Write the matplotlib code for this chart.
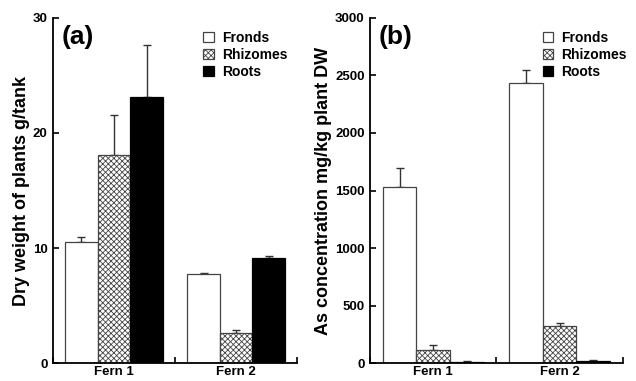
import matplotlib.pyplot as plt
import numpy as np

plt.rcParams["font.family"] = ["Liberation Sans", "DejaVu Sans"]
plt.rcParams["font.weight"] = "bold"
plt.rcParams["hatch.linewidth"] = 0.6
plt.rcParams["hatch.color"] = "#333333"

groups = ["Fern 1", "Fern 2"]
parts = ["Fronds", "Rhizomes", "Roots"]

# (a) dry weight, g/tank
dw_mean = {"Fronds": [10.5, 7.75], "Rhizomes": [18.1, 2.6], "Roots": [23.15, 9.15]}
dw_err = {"Fronds": [0.5, 0.1], "Rhizomes": [3.5, 0.3], "Roots": [4.5, 0.2]}

# (b) As concentration, mg/kg plant DW
as_mean = {"Fronds": [1530, 2435], "Rhizomes": [112, 320], "Roots": [12, 15]}
as_err = {"Fronds": [162, 110], "Rhizomes": [45, 30], "Roots": [8, 10]}

styles = {
    "Fronds": dict(color="white", edgecolor="#444444", hatch=None),
    "Rhizomes": dict(color="white", edgecolor="#444444", hatch="xxxxxx"),
    "Roots": dict(color="black", edgecolor="black", hatch=None),
}

fig = plt.figure(figsize=(6.36, 3.81), dpi=100)
ax_a = fig.add_axes([0.0833, 0.047, 0.384, 0.906])
ax_b = fig.add_axes([0.582, 0.047, 0.397, 0.906])

width = 0.267
centers = np.array([0.5, 1.5])


def draw(ax, means, errs, ymax, yticks, ylabel, tag, leg_x):
    for i, p in enumerate(parts):
        x = centers + (i - 1) * width
        st = styles[p]
        ax.bar(x, means[p], width, color=st["color"], edgecolor=st["edgecolor"],
               hatch=st["hatch"], linewidth=0.9, label=p, zorder=2)
        ax.errorbar(x, means[p], yerr=[np.zeros(2), errs[p]], fmt="none",
                    ecolor="#333333", elinewidth=1.0, capsize=3, capthick=1.0, zorder=1)
    ax.set_xlim(0, 2)
    ax.set_ylim(0, ymax)
    ax.set_yticks(yticks)
    ax.set_xticks([0, 1, 2])
    ax.set_xticklabels([])
    ax.set_xticks(centers, minor=True)
    ax.set_xticklabels(groups, minor=True, fontsize=9.5, fontweight="bold")
    ax.tick_params(axis="x", which="minor", length=0, pad=2)
    ax.tick_params(axis="x", which="major", direction="in", length=4, width=1.2)
    ax.tick_params(axis="y", direction="in", length=4, width=1.2, labelsize=9.5, pad=4)
    for s in ("top", "right"):
        ax.spines[s].set_visible(False)
    for s in ("left", "bottom"):
        ax.spines[s].set_linewidth(1.3)
    ax.set_ylabel(ylabel, fontsize=13, fontweight="bold", labelpad=2)
    ax.text(0.035, 0.98, tag, transform=ax.transAxes, fontsize=19, fontweight="bold",
            va="top", ha="left")
    ax.legend(loc="upper right", bbox_to_anchor=(leg_x, 0.99), frameon=False,
              fontsize=10, handlelength=0.75, handleheight=0.75, handletextpad=0.6,
              labelspacing=0.2, borderaxespad=0.3)


draw(ax_a, dw_mean, dw_err, 30, [0, 10, 20, 30], "Dry weight of plants g/tank", "(a)", 1.0)
draw(ax_b, as_mean, as_err, 3000, [0, 500, 1000, 1500, 2000, 2500, 3000],
     "As concentration mg/kg plant DW", "(b)", 1.055)

fig.savefig("out.png", dpi=100)
